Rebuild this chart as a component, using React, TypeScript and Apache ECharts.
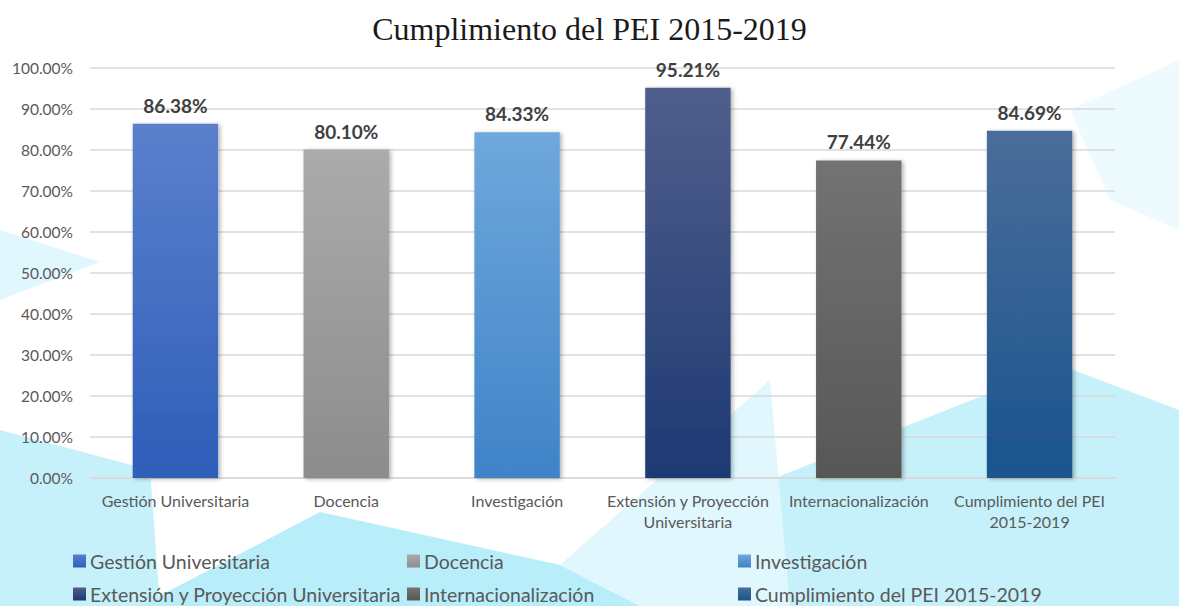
import React, { useEffect, useRef } from "react";
import * as echarts from "echarts";

const categories = [
  "Gestión Universitaria",
  "Docencia",
  "Investigación",
  "Extensión y Proyección Universitaria",
  "Internacionalización",
  "Cumplimiento del PEI 2015-2019",
];
const xTickLabels = [
  "Gestión Universitaria",
  "Docencia",
  "Investigación",
  "Extensión y Proyección\nUniversitaria",
  "Internacionalización",
  "Cumplimiento del PEI\n2015-2019",
];
const values = [86.38, 80.1, 84.33, 95.21, 77.44, 84.69];
const topColors = ["#5B80CC", "#ABABAB", "#6FA8DC", "#505E8B", "#737373", "#4A6D9A"];
const bottomColors = ["#2E5EB9", "#8C8C8C", "#3F83C8", "#1E3A73", "#575757", "#1A548E"];
const legendLeft = [73, 407, 738, 73, 407, 738];
const legendTop = [551, 551, 551, 584, 584, 584];

const FONT = "Lato, 'Open Sans', sans-serif";

export default function App() {
  const ref = useRef<HTMLDivElement>(null);
  useEffect(() => {
    const chart = echarts.init(ref.current!, undefined, { renderer: "svg" });
    const series = categories.map((name, i) => ({
      name,
      type: "bar",
      stack: "all",
      barWidth: "50%",
      data: values.map((v, j) => (j === i ? v : "-")),
      itemStyle: {
        color: new echarts.graphic.LinearGradient(0, 0, 0, 1, [
          { offset: 0, color: topColors[i] },
          { offset: 1, color: bottomColors[i] },
        ]),
        shadowBlur: 4,
        shadowColor: "rgba(0,0,0,0.3)",
        shadowOffsetX: 2,
        shadowOffsetY: 1,
      },
      label: {
        show: true,
        position: "top",
        distance: 9,
        formatter: (p: any) => p.value.toFixed(2) + "%",
        fontFamily: FONT,
        fontWeight: "bold",
        fontSize: 19,
        color: "#404040",
      },
    }));
    const legends = categories.map((name, i) => ({
      data: [name],
      left: legendLeft[i],
      top: legendTop[i],
      icon: "rect",
      itemWidth: 13,
      itemHeight: 13,
      itemGap: 5,
      padding: 0,
      textStyle: { fontFamily: FONT, fontSize: 19.5, color: "#595959", padding: [0, 0, 0, -1] },
    }));
    const bg = "#c6f1fb";
    chart.setOption({
      animation: false,
      backgroundColor: "#ffffff",
      title: {
        text: "Cumplimiento del PEI 2015-2019",
        left: "center",
        top: 8,
        textStyle: {
          fontFamily: "'Liberation Serif', 'DejaVu Serif', serif",
          fontWeight: "normal",
          fontSize: 32,
          color: "#1a1a1a",
        },
      },
      graphic: [
        { type: "polygon", z: -10, shape: { points: [[0, 430], [150, 470], [160, 606], [0, 606]] }, style: { fill: bg } },
        { type: "polygon", z: -10, shape: { points: [[140, 606], [320, 512], [560, 565], [640, 606]] }, style: { fill: "#b8edfa" } },
        { type: "polygon", z: -10, shape: { points: [[0, 230], [100, 262], [0, 300]] }, style: { fill: "#dff7fd" } },
        { type: "polygon", z: -10, shape: { points: [[770, 480], [1060, 365], [1179, 410], [1179, 606], [770, 606]] }, style: { fill: bg } },
        { type: "polygon", z: -10, shape: { points: [[1070, 110], [1179, 60], [1179, 230], [1110, 200]] }, style: { fill: "#eefbfe" } },
        { type: "polygon", z: -10, shape: { points: [[770, 380], [790, 606], [640, 606], [560, 565]] }, style: { fill: "#dff7fd" } },
      ],
      legend: legends,
      grid: { left: 90, right: 64, top: 68, bottom: 128, containLabel: false },
      xAxis: {
        type: "category",
        data: categories,
        axisLine: { lineStyle: { color: "#d9d9d9", width: 1.5 } },
        axisTick: { show: false },
        axisLabel: {
          interval: 0,
          margin: 12,
          formatter: (_v: string, idx: number) => xTickLabels[idx],
          fontFamily: FONT,
          fontSize: 16,
          lineHeight: 21,
          color: "#595959",
        },
      },
      yAxis: {
        type: "value",
        min: 0,
        max: 100,
        interval: 10,
        axisLine: { show: false },
        axisTick: { show: false },
        splitLine: { lineStyle: { color: "#d9d9d9", width: 1.5 } },
        axisLabel: {
          margin: 17,
          formatter: (v: number) => v.toFixed(2) + "%",
          fontFamily: FONT,
          fontSize: 15.5,
          color: "#595959",
        },
      },
      series,
    });
    return () => chart.dispose();
  }, []);
  return <div ref={ref} style={{ width: 1179, height: 606, position: "absolute", left: 0, top: 0 }} />;
}
